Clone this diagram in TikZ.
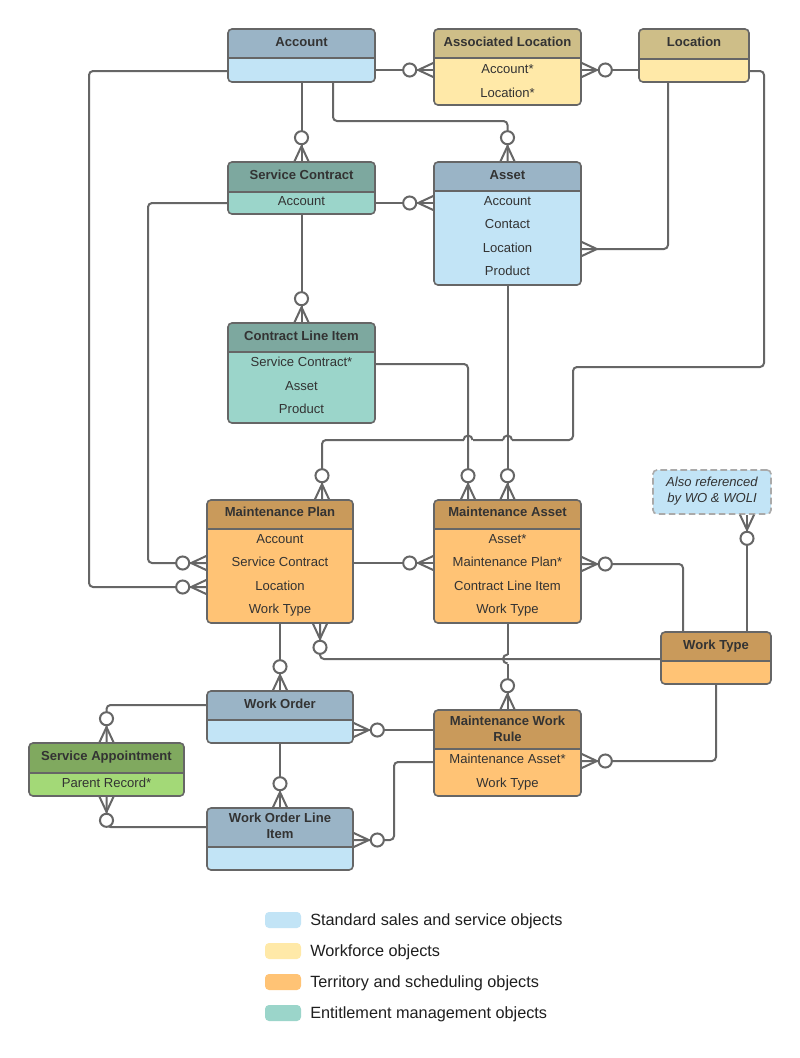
\documentclass[tikz,border=0pt]{standalone}
\usepackage{fontspec}
\setmainfont{Liberation Sans}
\usetikzlibrary{fit}
\definecolor{bd}{HTML}{666666}
\definecolor{tx}{HTML}{333333}
\definecolor{hBlue}{HTML}{9AB4C6}
\definecolor{bBlue}{HTML}{C2E4F6}
\definecolor{hYel}{HTML}{CEBE88}
\definecolor{bYel}{HTML}{FFE9A8}
\definecolor{hOra}{HTML}{C99A5B}
\definecolor{bOra}{HTML}{FFC375}
\definecolor{hTeal}{HTML}{7DA89F}
\definecolor{bTeal}{HTML}{9BD5CA}
\definecolor{hGrn}{HTML}{80A95F}
\definecolor{bGrn}{HTML}{A3D977}
\definecolor{dashc}{HTML}{AAAAAA}
\tikzset{
  ent/.style n args={3}{draw=bd, line width=1.2pt, rounded corners=3pt, fill=#2, inner sep=0pt,
    path picture={\fill[#1, sharp corners] (path picture bounding box.north west) rectangle ([yshift=-#3]path picture bounding box.north east);
      \draw[bd, line width=1.2pt, sharp corners] ([yshift=-#3]path picture bounding box.north west) -- ([yshift=-#3]path picture bounding box.north east);}},
  ttl/.style={font=\bfseries\fontsize{9.8}{12}\selectfont, text=tx, inner sep=0pt, text height=7pt, text depth=0pt},
  ttltwo/.style={font=\bfseries\fontsize{9.8}{12}\selectfont, text=tx, inner sep=0pt, align=center},
  row/.style={font=\fontsize{9.8}{12}\selectfont, text=tx, inner sep=0pt, text height=7pt, text depth=0pt},
  conn/.style={draw=bd, line width=1.5pt, rounded corners=3pt},
  hop/.style={draw=bd, line width=1.5pt},
  sw/.style={rounded corners=3pt, inner sep=0pt},
  lg/.style={font=\fontsize{12.2}{14}\selectfont, text=black!88, anchor=base west, inner sep=0pt},
  zmany/.pic={\draw[bd, line width=1.5pt, line join=round] (0,-7)--(15,0)--(0,7);
              \draw[bd, line width=1.5pt, fill=white] (23.5,0) circle[radius=4.9pt];},
  many/.pic={\draw[bd, line width=1.5pt, line join=round] (0,-7)--(15,0)--(0,7);}
}
\begin{document}
\begin{tikzpicture}[x=0.75pt,y=-0.75pt]
\useasboundingbox[fill=white] (0,0) rectangle (800,1058);

% ---------- entities ----------
\node[ent={hBlue}{bBlue}{21.75pt}, fit={(228,29) (375,82)}] (acc) {};
\node[ttl] (acc-t) at (301.5,42) {Account};

\node[ent={hYel}{bYel}{21.75pt}, fit={(434,29) (581,105)}] (al) {};
\node[ttl] (al-t) at (507.5,42) {Associated Location};
\node[row] (al-1) at (507.5,69.3) {Account*};
\node[row] (al-2) at (507.5,92.7) {Location*};

\node[ent={hYel}{bYel}{22.5pt}, fit={(639,29) (749,82)}] (loc) {};
\node[ttl] (loc-t) at (694,42) {Location};

\node[ent={hTeal}{bTeal}{22.5pt}, fit={(228,162) (375,214)}] (sc) {};
\node[ttl] (sc-t) at (301.5,174.7) {Service Contract};
\node[row] (sc-1) at (301.5,201) {Account};

\node[ent={hBlue}{bBlue}{21.75pt}, fit={(434,162) (581,285)}] (ast) {};
\node[ttl] (ast-t) at (507.5,174.7) {Asset};
\node[row] (ast-1) at (507.5,201) {Account};
\node[row] (ast-2) at (507.5,224.3) {Contact};
\node[row] (ast-3) at (507.5,247.7) {Location};
\node[row] (ast-4) at (507.5,271) {Product};

\node[ent={hTeal}{bTeal}{21.75pt}, fit={(228,323) (375,423)}] (cli) {};
\node[ttl] (cli-t) at (301.5,336) {Contract Line Item};
\node[row] (cli-1) at (301.5,362.3) {Service Contract*};
\node[row] (cli-2) at (301.5,385.7) {Asset};
\node[row] (cli-3) at (301.5,409.3) {Product};

\node[ent={hOra}{bOra}{21.75pt}, fit={(207,500) (353,623)}] (mp) {};
\node[ttl] (mp-t) at (280,512.3) {Maintenance Plan};
\node[row] (mp-1) at (280,539) {Account};
\node[row] (mp-2) at (280,562.3) {Service Contract};
\node[row] (mp-3) at (280,585.7) {Location};
\node[row] (mp-4) at (280,609) {Work Type};

\node[ent={hOra}{bOra}{21.75pt}, fit={(434,500) (581,623)}] (ma) {};
\node[ttl] (ma-t) at (507.5,512.3) {Maintenance Asset};
\node[row] (ma-1) at (507.5,539) {Asset*};
\node[row] (ma-2) at (507.5,562.3) {Maintenance Plan*};
\node[row] (ma-3) at (507.5,585.7) {Contract Line Item};
\node[row] (ma-4) at (507.5,609) {Work Type};

\node[draw=dashc, dash pattern=on 5pt off 2.5pt, line width=1.2pt, rounded corners=3pt, fill=bBlue, inner sep=0pt, fit={(653,470) (771,514)}] (ref) {};
\node[font=\itshape\fontsize{9.8}{12}\selectfont, text=tx, align=center, inner sep=0pt] (ref-t) at (712,491.5) {Also referenced\\by WO \& WOLI};

\node[ent={hOra}{bOra}{21.75pt}, fit={(661,632) (771,684)}] (wt) {};
\node[ttl] (wt-t) at (716,644.5) {Work Type};

\node[ent={hBlue}{bBlue}{21.75pt}, fit={(207,691) (353,743)}] (wo) {};
\node[ttl] (wo-t) at (280,703.5) {Work Order};

\node[ent={hGrn}{bGrn}{22.5pt}, fit={(29,743) (184,796)}] (sa) {};
\node[ttl] (sa-t) at (106.5,756) {Service Appointment};
\node[row] (sa-1) at (106.5,782.7) {Parent Record*};

\node[ent={hBlue}{bBlue}{29.25pt}, fit={(207,808) (353,870)}] (woli) {};
\node[ttltwo] (woli-t) at (280,825.5) {Work Order Line\\Item};

\node[ent={hOra}{bOra}{29.25pt}, fit={(434,710) (581,796)}] (mwr) {};
\node[ttltwo] (mwr-t) at (507.5,728.5) {Maintenance Work\\Rule};
\node[row] (mwr-1) at (507.5,759.3) {Maintenance Asset*};
\node[row] (mwr-2) at (507.5,782.7) {Work Type};

% ---------- connectors ----------
% Location -> Maintenance Plan (with hops)
\draw[conn] (loc.east|-0,71) -- (764,71) -- (764,367) -- (573,367) -- (573,440) -- (322,440) -- (mp.north-|322,0);
\pic[rotate=90] at (mp.north-|322,0) {zmany};
\fill[white] (463.5,436) rectangle (472.5,444);
\draw[hop] (472.5,440) arc[start angle=0,end angle=180,radius=3.375pt];
\fill[white] (503,436) rectangle (512,444);
\draw[hop] (512,440) arc[start angle=0,end angle=180,radius=3.375pt];

% Account -> Associated Location
\draw[conn] (acc.east|-0,70) -- (al.west|-0,70);
\pic[rotate=180] at (al.west|-0,70) {zmany};
% Location -> Associated Location
\draw[conn] (loc.west|-0,70) -- (al.east|-0,70);
\pic at (al.east|-0,70) {zmany};
% Account -> Service Contract
\draw[conn] (acc.south) -- (sc.north);
\pic[rotate=90] at (sc.north) {zmany};
% Account -> Asset
\draw[conn] (acc.south-|333,0) -- (333,121) -- (ast.north|-0,121) -- (ast.north);
\pic[rotate=90] at (ast.north) {zmany};
% Account -> Maintenance Plan
\draw[conn] (acc.west|-0,71) -- (89,71) -- (89,587) -- (mp.west|-0,587);
\pic[rotate=180] at (mp.west|-0,587) {zmany};
% Service Contract -> Asset
\draw[conn] (sc.east|-0,203) -- (ast.west|-0,203);
\pic[rotate=180] at (ast.west|-0,203) {zmany};
% Service Contract -> Contract Line Item
\draw[conn] (sc.south) -- (cli.north);
\pic[rotate=90] at (cli.north) {zmany};
% Service Contract -> Maintenance Plan
\draw[conn] (sc.west|-0,203) -- (148,203) -- (148,563) -- (mp.west|-0,563);
\pic[rotate=180] at (mp.west|-0,563) {zmany};
% Location -> Asset
\draw[conn] (loc.south-|668,0) -- (668,249) -- (ast.east|-0,249);
\pic at (ast.east|-0,249) {many};
% Contract Line Item -> Maintenance Asset
\draw[conn] (cli.east|-0,364) -- (468,364) -- (ma.north-|468,0);
\pic[rotate=90] at (ma.north-|468,0) {zmany};
% Asset -> Maintenance Asset
\draw[conn] (ast.south) -- (ma.north);
\pic[rotate=90] at (ma.north) {zmany};
% Maintenance Plan -> Maintenance Asset
\draw[conn] (mp.east|-0,563) -- (ma.west|-0,563);
\pic[rotate=180] at (ma.west|-0,563) {zmany};
% Work Type -> Maintenance Asset
\draw[conn] (wt.north-|683,0) -- (683,564) -- (ma.east|-0,564);
\pic at (ma.east|-0,564) {zmany};
% Work Type -> Also referenced
\draw[conn] (wt.north-|747,0) -- (ref.south-|747,0);
\pic[rotate=-90] at (ref.south-|747,0) {zmany};
% Maintenance Asset -> Maintenance Work Rule (with hop)
\draw[conn] (ma.south) -- (mwr.north);
\pic[rotate=90] at (mwr.north) {zmany};
\fill[white] (503.5,654.5) rectangle (511.5,663.5);
\draw[hop] (507.5,654.5) arc[start angle=90,end angle=270,radius=3.375pt];
% Work Type -> Maintenance Plan
\draw[conn] (wt.west|-0,659) -- (320,659) -- (mp.south-|320,0);
\pic[rotate=-90] at (mp.south-|320,0) {zmany};
% Maintenance Plan -> Work Order
\draw[conn] (mp.south) -- (wo.north);
\pic[rotate=90] at (wo.north) {zmany};
% Maintenance Work Rule -> Work Order
\draw[conn] (mwr.west|-0,730) -- (wo.east|-0,730);
\pic at (wo.east|-0,730) {zmany};
% Work Order -> Service Appointment
\draw[conn] (wo.west|-0,705) -- (sa.north|-0,705) -- (sa.north);
\pic[rotate=90] at (sa.north) {zmany};
% Work Order -> Work Order Line Item
\draw[conn] (wo.south) -- (woli.north);
\pic[rotate=90] at (woli.north) {zmany};
% Work Order Line Item -> Service Appointment
\draw[conn] (woli.west|-0,827) -- (sa.south|-0,827) -- (sa.south);
\pic[rotate=-90] at (sa.south) {zmany};
% Maintenance Work Rule -> Work Order Line Item
\draw[conn] (mwr.west|-0,762) -- (394,762) -- (394,840) -- (woli.east|-0,840);
\pic at (woli.east|-0,840) {zmany};
% Work Type -> Maintenance Work Rule
\draw[conn] (wt.south) -- (wt.south|-0,761) -- (mwr.east|-0,761);
\pic at (mwr.east|-0,761) {zmany};

% ---------- legend ----------
\node[sw, fill=bBlue, fit={(265,912) (301,928)}] (sw1) {};
\node[lg] (lg1) at (310,925) {Standard sales and service objects};
\node[sw, fill=bYel, fit={(265,943) (301,959)}] (sw2) {};
\node[lg] (lg2) at (310,956) {Workforce objects};
\node[sw, fill=bOra, fit={(265,974) (301,990)}] (sw3) {};
\node[lg] (lg3) at (310,987) {Territory and scheduling objects};
\node[sw, fill=bTeal, fit={(265,1005) (301,1021)}] (sw4) {};
\node[lg] (lg4) at (310,1018) {Entitlement management objects};
\end{tikzpicture}
\end{document}
